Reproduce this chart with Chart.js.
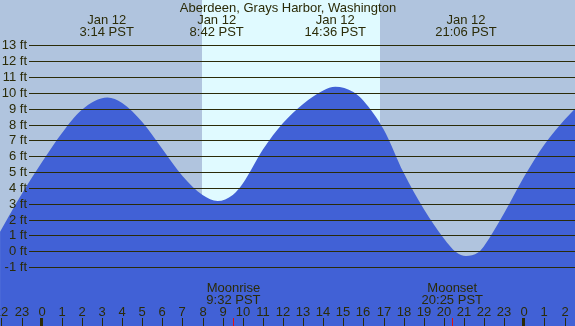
<!DOCTYPE html>
<html>
<head>
<meta charset="utf-8">
<script src="https://cdn.jsdelivr.net/npm/chart.js@4/dist/chart.umd.min.js"></script>
<style>
  body { margin: 0; background: #fff; }
  #chart-1 { width: 575px; height: 326px; }
</style>
</head>
<body>
<div id="chart-1"><canvas id="tideChart" width="575" height="326"></canvas></div>
<script>
var stationName = 'Aberdeen, Grays Harbor, Washington';

// hours from midnight Jan 12 (PST), tide height in feet
var hours = [-2.07, -1, 0, 1, 2, 3.27, 4, 5, 6, 7, 8, 8.75, 9.5, 10, 11, 12, 13, 14, 14.6, 15.5, 16, 17, 18, 19, 20, 20.6, 21.1, 21.7, 22, 23, 24, 25, 26, 26.52];
var tideFt = [1.24, 3.6, 5.6, 7.45, 8.93, 9.7, 9.35, 8.15, 6.45, 4.75, 3.55, 3.17, 3.55, 4.28, 6.42, 8.09, 9.3, 10.15, 10.38, 10.05, 9.5, 7.7, 4.95, 2.67, 0.81, -0.05, -0.3, -0.08, 0.34, 2.41, 4.73, 6.74, 8.3, 9.0];

var extremeHours = [3.233, 8.7, 14.6, 21.1];
var extremeDates = ['Jan 12', 'Jan 12', 'Jan 12', 'Jan 12'];
var extremeTimes = ['3:14 PST', '8:42 PST', '14:36 PST', '21:06 PST'];

var moonHours = [9.533, 20.417];
var moonEvents = ['Moonrise', 'Moonset'];
var moonTimes = ['9:32 PST', '20:25 PST'];

var daylight = [7.97, 16.82];

var ftTicks = [-1, 0, 1, 2, 3, 4, 5, 6, 7, 8, 9, 10, 11, 12, 13];
var hourTicks = [-2, -1, 0, 1, 2, 3, 4, 5, 6, 7, 8, 9, 10, 11, 12, 13, 14, 15, 16, 17, 18, 19, 20, 21, 22, 23, 24, 25, 26];

var nightColor = '#b0c4de';
var dayColor = '#e0faff';
var waterColor = '#4161d6';
var inkColor = '#2b2b08';
var fontFamily = '"Liberation Sans", Arial, sans-serif';

var tidePlugin = {
  id: 'tideDecor',
  beforeDatasetsDraw: function (chart) {
    var ctx = chart.ctx;
    var x = chart.scales.x;
    var a = chart.chartArea;
    ctx.save();
    ctx.fillStyle = nightColor;
    ctx.fillRect(a.left, a.top, a.right - a.left, a.bottom - a.top);
    var x0 = Math.round(x.getPixelForValue(daylight[0]));
    var x1 = Math.round(x.getPixelForValue(daylight[1]));
    ctx.fillStyle = dayColor;
    ctx.fillRect(x0, a.top, x1 - x0, a.bottom - a.top);
    ctx.restore();
  },
  afterDatasetsDraw: function (chart) {
    var ctx = chart.ctx;
    var x = chart.scales.x;
    var y = chart.scales.y;
    var a = chart.chartArea;
    ctx.save();

    // horizontal foot lines + labels
    ctx.font = '13px ' + fontFamily;
    ctx.textBaseline = 'middle';
    ctx.textAlign = 'right';
    ctx.strokeStyle = inkColor;
    ctx.fillStyle = inkColor;
    ctx.lineWidth = 1;
    ftTicks.forEach(function (ft) {
      var py = Math.round(y.getPixelForValue(ft)) + 0.5;
      ctx.beginPath();
      ctx.moveTo(29, py);
      ctx.lineTo(a.right, py);
      ctx.stroke();
      ctx.fillText(ft + ' ft', 27, py);
    });

    // hour ticks along the bottom
    ctx.textAlign = 'center';
    hourTicks.forEach(function (h) {
      var px = Math.round(x.getPixelForValue(h));
      var label = String(((h % 24) + 24) % 24);
      ctx.fillText(label, px, 312);
      if (label === '0') {
        ctx.fillRect(px - 2, 318, 3, 8);
      } else {
        ctx.fillRect(px, 318, 1, 8);
      }
    });

    // moon events
    ctx.fillStyle = '#e01010';
    moonHours.forEach(function (h) {
      var px = Math.round(x.getPixelForValue(h));
      ctx.fillRect(px, 318, 1, 8);
    });
    ctx.fillStyle = inkColor;
    moonHours.forEach(function (h, i) {
      var px = x.getPixelForValue(h);
      ctx.fillText(moonEvents[i], px, 288);
      ctx.fillText(moonTimes[i], px, 300);
    });

    // high / low tide times
    extremeHours.forEach(function (h, i) {
      var px = x.getPixelForValue(h);
      ctx.fillText(extremeDates[i], px, 20);
      ctx.fillText(extremeTimes[i], px, 32);
    });

    ctx.fillText(stationName, 288, 8);
    ctx.restore();
  }
};

var points = hours.map(function (h, i) { return { x: h, y: tideFt[i] }; });

new Chart(document.getElementById('tideChart'), {
  type: 'line',
  data: {
    datasets: [
      {
        label: 'Tide',
        data: points,
        fill: 'start',
        backgroundColor: waterColor,
        borderColor: waterColor,
        borderWidth: 0,
        pointRadius: 0,
        cubicInterpolationMode: 'monotone'
      }
    ]
  },
  options: {
    responsive: false,
    animation: false,
    layout: { padding: 0 },
    scales: {
      x: { type: 'linear', min: -2.074, max: 26.52, display: false },
      y: { min: -4.713, max: 15.855, display: false }
    },
    plugins: {
      legend: { display: false },
      tooltip: { enabled: false }
    }
  },
  plugins: [tidePlugin]
});
</script>
</body>
</html>
